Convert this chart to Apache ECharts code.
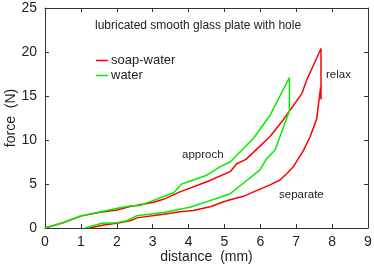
<!DOCTYPE html>
<html><head><meta charset="utf-8">
<script src="https://cdn.jsdelivr.net/npm/echarts@6/dist/echarts.min.js"></script>
<style>html,body{margin:0;padding:0;background:#fff}#c{width:374px;height:265px}</style>
</head><body><div id="c"></div>
<script>
var xTicks = [0,1,2,3,4,5,6,7,8,9];
var yTicks = [0,5,10,15,20,25];
var seriesNames = ['soap-water','water'];
var soapApproach = [[0,0],[0.5,0.6],[1,1.35],[1.5,1.75],[2,2.05],[2.37,2.45],[3,2.9],[3.3,3.26],[3.76,4.1],[4.51,5.26],[5.16,6.4],[5.34,7.3],[5.6,7.8],[5.99,9.3],[6.27,10.4],[6.64,12.3],[7.16,15.3],[7.29,16.8],[7.48,18.5],[7.69,20.4]];
var soapRelax = [[7.69,14.6]];
var soapSeparate = [[7.68,16.0],[7.57,12.4],[7.39,10.4],[7.2,8.8],[6.92,6.97],[6.74,6.2],[6.55,5.45],[6.27,4.9],[5.81,4.1],[5.53,3.6],[5.16,3.2],[4.92,2.9],[4.83,2.75],[4.6,2.42],[4.13,2.0],[3.76,1.85],[3.3,1.56],[2.56,1.15],[2.4,0.85],[2.0,0.55],[1.63,0.34],[1.25,0]];
var waterApproach = [[0,0],[0.5,0.6],[0.98,1.36],[1.25,1.6],[2.09,2.3],[2.37,2.5],[2.65,2.55],[2.93,3.0],[3.58,4.0],[3.81,5.0],[4.51,6.0],[4.88,6.97],[5.16,7.5],[5.44,8.67],[5.81,10.2],[6.18,12.3],[6.27,12.8],[6.81,17.1]];
var waterRelax = [[6.81,13.3]];
var waterSeparate = [[6.64,11.4],[6.41,8.86],[6.18,7.9],[5.99,6.6],[5.5,5.0],[5.16,3.9],[4.88,3.5],[4.51,3.0],[4.04,2.35],[3.3,1.75],[2.56,1.4],[2.28,0.83],[2.0,0.6],[1.58,0.53],[1.12,0]];
var soapAll = soapApproach.concat(soapRelax, soapSeparate);
var waterAll = waterApproach.concat(waterRelax, waterSeparate);

var axisColor = '#333';
var font = 'Liberation Sans, Arial, sans-serif';
var chart = echarts.init(document.getElementById('c'), null, {renderer:'canvas'});
function xAx(pos, show){
  return {type:'value', position:pos, min:0, max:9, interval:1,
    axisLine:{show:true, onZero:false, lineStyle:{color:axisColor, width:1}},
    axisTick:{show:true, inside:true, length:4, lineStyle:{color:axisColor}},
    axisLabel:{show:show, color:'#222', fontSize:14, fontFamily:font, margin:7},
    splitLine:{show:false},
    name: show ? 'distance  (mm)' : '', nameLocation:'middle', nameGap:22, nameMoveOverlap:false,
    nameTextStyle:{color:'#222', fontSize:14, fontFamily:font}};
}
function yAx(pos, show){
  return {type:'value', position:pos, min:0, max:25, interval:5,
    axisLine:{show:true, onZero:false, lineStyle:{color:axisColor, width:1}},
    axisTick:{show:true, inside:true, length:4, lineStyle:{color:axisColor}},
    axisLabel:{show:show, color:'#222', fontSize:14, fontFamily:font, margin:8},
    splitLine:{show:false},
    name: show ? 'force  (N)' : '', nameLocation:'middle', nameGap:27, nameRotate:90, nameMoveOverlap:false,
    nameTextStyle:{color:'#222', fontSize:14, fontFamily:font}};
}
chart.setOption({
  animation:false,
  grid:{left:45, right:6, top:8, bottom:37, containLabel:false, outerBoundsMode:'none'},
  xAxis:[xAx('bottom', true), xAx('top', false)],
  yAxis:[yAx('left', true), yAx('right', false)],
  legend:{orient:'vertical', left:91, top:49, itemWidth:12, itemHeight:1.5, itemGap:2, icon:'rect',
    textStyle:{color:'#222', fontSize:13, fontFamily:font, padding:[0,0,0,-2]},
    data:seriesNames},
  series:[
    {name:seriesNames[0], type:'line', data:soapAll, showSymbol:false, symbol:'none',
     lineStyle:{color:'#ff0000', width:1.5}, itemStyle:{color:'#ff0000'}},
    {name:seriesNames[1], type:'line', data:waterAll, showSymbol:false, symbol:'none',
     lineStyle:{color:'#00ee00', width:1.5}, itemStyle:{color:'#00ee00'}}
  ],
  graphic:[
    {type:'text', left:95, top:20, style:{text:'lubricated smooth glass plate with hole', fill:'#222', font:'12px '+font}},
    {type:'text', left:326, top:69, style:{text:'relax', fill:'#222', font:'11.5px '+font}},
    {type:'text', left:182, top:149, style:{text:'approch', fill:'#222', font:'11.5px '+font}},
    {type:'text', left:279, top:189, style:{text:'separate', fill:'#222', font:'11.5px '+font}}
  ]
});
</script></body></html>
